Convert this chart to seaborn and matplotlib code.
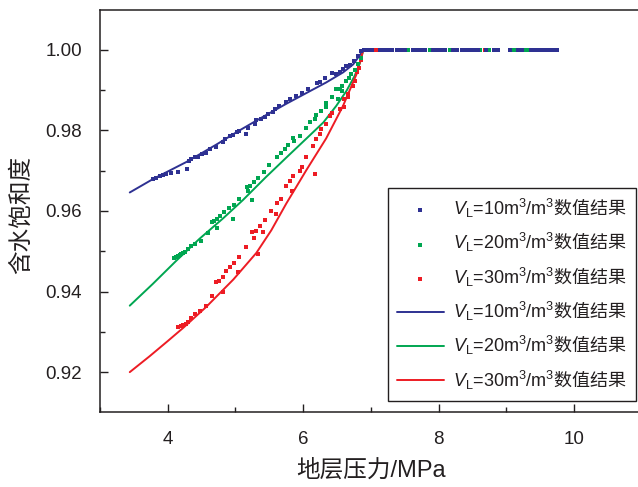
import numpy as np
import pandas as pd
import matplotlib
matplotlib.use("Agg")
import matplotlib.pyplot as plt
from matplotlib.ticker import MultipleLocator, FormatStrFormatter
import seaborn as sns

# numerical results (points)
blue_x = [3.78, 3.83, 3.88, 3.93, 3.98, 4.05, 4.15, 4.29, 4.32, 4.35, 4.40, 4.45, 4.50, 4.56, 4.62,
          4.72, 4.82, 4.84, 4.92, 4.97, 5.02, 5.06, 5.15, 5.19, 5.29, 5.31, 5.38, 5.43, 5.48, 5.56,
          5.58, 5.65, 5.75, 5.80, 5.90, 5.98, 6.07, 6.20, 6.25, 6.32, 6.42, 6.49, 6.54, 6.59, 6.64,
          6.69, 6.75, 6.81, 6.86]
blue_y = [0.9679, 0.9683, 0.9687, 0.9690, 0.9692, 0.9694, 0.9697, 0.9704, 0.9725, 0.9729, 0.9733, 0.9735,
          0.9741, 0.9745, 0.9754, 0.9760, 0.9772, 0.9778, 0.9785, 0.9788, 0.9795, 0.9799, 0.9791, 0.9807,
          0.9815, 0.9826, 0.9829, 0.9834, 0.9840, 0.9846, 0.9854, 0.9861, 0.9871, 0.9877, 0.9886, 0.9892,
          0.9902, 0.9917, 0.9920, 0.9931, 0.9942, 0.9939, 0.9945, 0.9952, 0.9960, 0.9962, 0.9972, 0.9985,
          0.9997]
green_x = [4.10, 4.13, 4.15, 4.18, 4.20, 4.23, 4.25, 4.30, 4.35, 4.41, 4.49, 4.60, 4.66, 4.68, 4.73,
           4.73, 4.78, 4.83, 4.91, 4.97, 4.98, 5.06, 5.17, 5.19, 5.21, 5.25, 5.27, 5.33, 5.42, 5.50,
           5.61, 5.68, 5.73, 5.78, 5.85, 5.87, 5.95, 6.05, 6.10, 6.17, 6.19, 6.27, 6.34, 6.34, 6.42,
           6.49, 6.52, 6.54, 6.57, 6.58, 6.64, 6.68, 6.71, 6.76, 6.81, 6.85]
green_y = [0.9483, 0.9485, 0.9488, 0.9491, 0.9494, 0.9496, 0.9499, 0.9506, 0.9513, 0.9518, 0.9526, 0.9545,
           0.9572, 0.9576, 0.9580, 0.9557, 0.9587, 0.9598, 0.9607, 0.9580, 0.9615, 0.9630, 0.9659, 0.9650,
           0.9663, 0.9628, 0.9673, 0.9681, 0.9696, 0.9714, 0.9733, 0.9745, 0.9754, 0.9763, 0.9780, 0.9774,
           0.9787, 0.9807, 0.9820, 0.9828, 0.9838, 0.9848, 0.9869, 0.9857, 0.9882, 0.9902, 0.9877, 0.9904,
           0.9898, 0.9910, 0.9923, 0.9929, 0.9939, 0.9950, 0.9964, 0.9981]
red_x = [4.15, 4.19, 4.23, 4.27, 4.30, 4.35, 4.40, 4.47, 4.56, 4.66, 4.72, 4.76, 4.81, 4.81, 4.86,
         4.92, 4.98, 5.04, 5.06, 5.16, 5.25, 5.27, 5.30, 5.33, 5.36, 5.41, 5.43, 5.52, 5.60, 5.61,
         5.68, 5.75, 5.81, 5.83, 5.85, 5.95, 5.98, 6.05, 6.15, 6.17, 6.19, 6.25, 6.27, 6.34, 6.39,
         6.43, 6.54, 6.61, 6.61, 6.66, 6.66, 6.74, 6.76, 6.80, 6.83, 6.86]
red_y = [0.9312, 0.9314, 0.9318, 0.9320, 0.9324, 0.9334, 0.9345, 0.9351, 0.9364, 0.9390, 0.9423, 0.9427,
         0.9399, 0.9436, 0.9450, 0.9461, 0.9471, 0.9448, 0.9485, 0.9510, 0.9547, 0.9532, 0.9551, 0.9494,
         0.9562, 0.9547, 0.9578, 0.9601, 0.9593, 0.9620, 0.9631, 0.9663, 0.9675, 0.9650, 0.9687, 0.9700,
         0.9708, 0.9733, 0.9762, 0.9692, 0.9778, 0.9791, 0.9803, 0.9815, 0.9836, 0.9843, 0.9853, 0.9857,
         0.9877, 0.9882, 0.9890, 0.9910, 0.9923, 0.9944, 0.9956, 0.9976]

# saturated part (Sw = 1) above the critical pressure
blue_flat_x = [6.90, 6.96, 7.02, 7.14, 7.20, 7.26, 7.32, 7.38, 7.44, 7.50, 7.62, 7.68, 7.74, 7.80,
               7.92, 7.98, 8.04, 8.10, 8.22, 8.28, 8.34, 8.40, 8.46, 8.52, 8.58, 8.70, 8.82, 8.88,
               9.06, 9.18, 9.24, 9.36, 9.42, 9.48, 9.54, 9.60, 9.66, 9.72, 9.75]
green_flat_x = [6.93, 7.55, 7.87, 8.17, 8.62, 8.75, 9.12, 9.29, 9.34]
red_flat_x = [6.92, 7.07, 8.68]

# model curves
blue_line_x = [3.44, 3.78, 4.28, 4.72, 5.06, 5.41, 5.75, 6.05, 6.34, 6.59, 6.74, 6.86, 6.89]
blue_line_y = [0.9646, 0.9679, 0.9722, 0.9765, 0.9800, 0.9834, 0.9866, 0.9893, 0.9919, 0.9944, 0.9964,
               0.9992, 1.0]
green_line_x = [3.44, 3.78, 4.13, 4.47, 4.82, 5.11, 5.45, 5.78, 6.05, 6.30, 6.49, 6.64, 6.76, 6.84, 6.89]
green_line_y = [0.9365, 0.9419, 0.9477, 0.9531, 0.9582, 0.9627, 0.9684, 0.9737, 0.9780, 0.9820, 0.9861,
                0.9898, 0.9935, 0.9968, 1.0]
red_line_x = [3.44, 3.73, 4.00, 4.23, 4.57, 4.97, 5.31, 5.53, 5.75, 6.05, 6.34, 6.59, 6.79, 6.89]
red_line_y = [0.9200, 0.9239, 0.9277, 0.9310, 0.9362, 0.9430, 0.9496, 0.9552, 0.9618, 0.9702, 0.9780,
              0.9861, 0.9940, 1.0]

labels = [r'$\mathit{V}_\mathrm{L}\hspace{-0.2}=\hspace{-0.2}\mathrm{10m^{3}/m^{3}}$数值结果',
          r'$\mathit{V}_\mathrm{L}\hspace{-0.2}=\hspace{-0.2}\mathrm{20m^{3}/m^{3}}$数值结果',
          r'$\mathit{V}_\mathrm{L}\hspace{-0.2}=\hspace{-0.2}\mathrm{30m^{3}/m^{3}}$数值结果']
colors = ['#2e3192', '#00a651', '#ed1c24']

sns.set_style('ticks')
plt.rcParams['font.family'] = ['Liberation Sans', 'Noto Sans CJK SC', 'DejaVu Sans']
plt.rcParams['mathtext.fontset'] = 'custom'
plt.rcParams['mathtext.rm'] = 'Liberation Sans'
plt.rcParams['mathtext.it'] = 'Liberation Sans:italic'
plt.rcParams['axes.unicode_minus'] = False

ink = '#231f20'
fig = plt.figure(figsize=(6.38, 4.87), dpi=100)
ax = fig.add_axes([0.1567, 0.154, 0.849, 0.8255])

pts = [(blue_x + blue_flat_x, blue_y + [1.0] * len(blue_flat_x)),
       (green_x + green_flat_x, green_y + [1.0] * len(green_flat_x)),
       (red_x + red_flat_x, red_y + [1.0] * len(red_flat_x))]
for (x, y), c, lab, z in zip(pts, colors, labels, [3.3, 3.2, 3.1]):
    df = pd.DataFrame({'p': x, 'sw': y})
    sns.scatterplot(data=df, x='p', y='sw', marker='s', s=10, color=c, linewidth=0,
                    label=lab, ax=ax, zorder=z)

lines = [(blue_line_x, blue_line_y), (green_line_x, green_line_y), (red_line_x, red_line_y)]
for (x, y), c, lab in zip(lines, colors, labels):
    df = pd.DataFrame({'p': x, 'sw': y})
    sns.lineplot(data=df, x='p', y='sw', color=c, lw=1.4, sort=False, estimator=None,
                 label=lab, ax=ax, zorder=2)

ax.set_xlim(3.0, 11.0)
ax.set_ylim(0.9101, 1.0099)
ax.xaxis.set_major_locator(MultipleLocator(2))
ax.xaxis.set_minor_locator(MultipleLocator(1))
ax.yaxis.set_major_locator(MultipleLocator(0.02))
ax.yaxis.set_minor_locator(MultipleLocator(0.01))
ax.yaxis.set_major_formatter(FormatStrFormatter('%.2f'))
ax.tick_params(which='major', direction='in', length=6, width=1, color=ink,
               labelsize=13.5, labelcolor=ink, pad=13)
ax.tick_params(which='minor', direction='in', length=3.5, width=1, color=ink)
ax.tick_params(axis='x', which='major', pad=14)
for s in ['left', 'bottom', 'top']:
    ax.spines[s].set_color(ink)
    ax.spines[s].set_linewidth(1.1)
ax.spines['right'].set_visible(False)

ax.set_xlabel('地层压力/MPa', fontsize=17, color=ink)
ax.set_ylabel('含水饱和度', fontsize=17, color=ink)
ax.xaxis.set_label_coords(0.5, -0.118)
ax.yaxis.set_label_coords(-0.124, 0.49)

handles, labs = ax.get_legend_handles_labels()
leg = ax.legend(handles, labs, loc='upper left', bbox_to_anchor=(388 / 638, 1 - 188 / 487),
                bbox_transform=fig.transFigure, borderaxespad=0,
                prop={'family': ['Noto Sans CJK SC'], 'size': 13},
                frameon=True, fancybox=False, edgecolor=ink, framealpha=1,
                handlelength=2.6, handletextpad=0.5, labelspacing=0.62,
                borderpad=0.5, markerscale=1.0)
leg.get_frame().set_linewidth(1.0)
for t in leg.get_texts():
    t.set_color(ink)

fig.savefig('out.png', dpi=100)
